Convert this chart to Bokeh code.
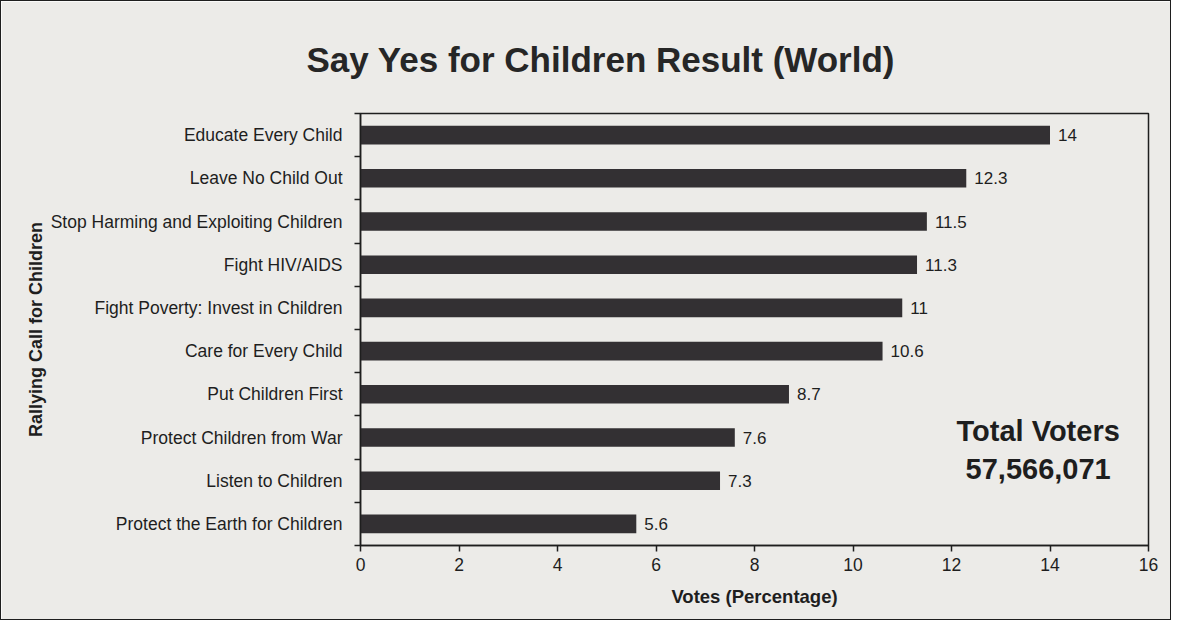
from bokeh.plotting import figure
from bokeh.models import ColumnDataSource, FixedTicker, Label, Range1d
from bokeh.core.properties import value
from bokeh.embed import file_html
from bokeh.resources import INLINE

categories = ["Educate Every Child", "Leave No Child Out", "Stop Harming and Exploiting Children",
              "Fight HIV/AIDS", "Fight Poverty: Invest in Children", "Care for Every Child",
              "Put Children First", "Protect Children from War", "Listen to Children",
              "Protect the Earth for Children"]
votes = [14, 12.3, 11.5, 11.3, 11, 10.6, 8.7, 7.6, 7.3, 5.6]
x_ticks = [0, 2, 4, 6, 8, 10, 12, 14, 16]
total_title = "Total Voters"
total_value = "57,566,071"

n = len(categories)
ypos = [n - i - 0.5 for i in range(n)]
labels = [str(v) for v in votes]
src = ColumnDataSource(dict(y=ypos, v=votes, lab=labels))

FONT = "Liberation Sans"
BG = "#ecebe8"
INK = "#1e1e1e"

p = figure(width=1171, height=620, output_backend="svg", toolbar_location=None,
           x_range=Range1d(0, 16), y_range=Range1d(0, n),
           min_border_left=359, min_border_right=24, min_border_top=112, min_border_bottom=76,
           title="Say Yes for Children Result (World)")
p.background_fill_color = BG
p.border_fill_color = BG
p.outline_line_color = INK
p.outline_line_width = 1.5
p.grid.visible = False

p.title.text_font = FONT
p.title.text_font_size = "35px"
p.title.text_font_style = "bold"
p.title.text_color = "#262626"
p.title.align = "left"
p.title.offset = -54
p.title.standoff = 69

p.hbar(y="y", right="v", left=0, height=0.43, source=src, fill_color="#333033", line_color=None)
p.text(x="v", y="y", text="lab", source=src, x_offset=8, text_baseline="middle",
       text_font=value(FONT), text_font_size="17px", text_color=INK)

# x axis
xa = p.xaxis[0]
xa.ticker = FixedTicker(ticks=x_ticks)
xa.minor_tick_line_color = None
xa.major_tick_in = 0
xa.major_tick_out = 6
xa.major_tick_line_color = INK
xa.major_tick_line_width = 1.5
xa.axis_line_color = INK
xa.axis_line_width = 1.5
xa.major_label_text_font = FONT
xa.major_label_text_font_size = "17.5px"
xa.major_label_text_color = INK
xa.major_label_standoff = 6
xa.axis_label = "Votes (Percentage)"
xa.axis_label_text_font = FONT
xa.axis_label_text_font_size = "18.5px"
xa.axis_label_text_font_style = "bold"
xa.axis_label_text_color = INK
xa.axis_label_standoff = 12

# y axis
ya = p.yaxis[0]
ya.ticker = FixedTicker(ticks=ypos, minor_ticks=list(range(n + 1)))
ya.major_label_overrides = {y: c for y, c in zip(ypos, categories)}
ya.major_tick_line_color = None
ya.minor_tick_in = 0
ya.minor_tick_out = 6
ya.minor_tick_line_color = INK
ya.minor_tick_line_width = 1.5
ya.axis_line_color = INK
ya.axis_line_width = 1.5
ya.major_label_text_font = FONT
ya.major_label_text_font_size = "17.5px"
ya.major_label_text_color = INK
ya.major_label_standoff = 12
ya.axis_label = "Rallying Call for Children"
ya.axis_label_text_font = FONT
ya.axis_label_text_font_size = "18px"
ya.axis_label_text_font_style = "bold"
ya.axis_label_text_color = INK
ya.axis_label_standoff = 2

p.add_layout(Label(x=13.76, y=2.64, text=total_title, text_font=FONT, text_font_size="29px",
                   text_font_style="bold", text_align="center", text_baseline="middle", text_color=INK))
p.add_layout(Label(x=13.76, y=1.76, text=total_value, text_font=FONT, text_font_size="29px",
                   text_font_style="bold", text_align="center", text_baseline="middle", text_color=INK))

p.styles = {"border": "1.5px solid #1e1e1e"}

open("out.html", "w").write(file_html(p, INLINE))
